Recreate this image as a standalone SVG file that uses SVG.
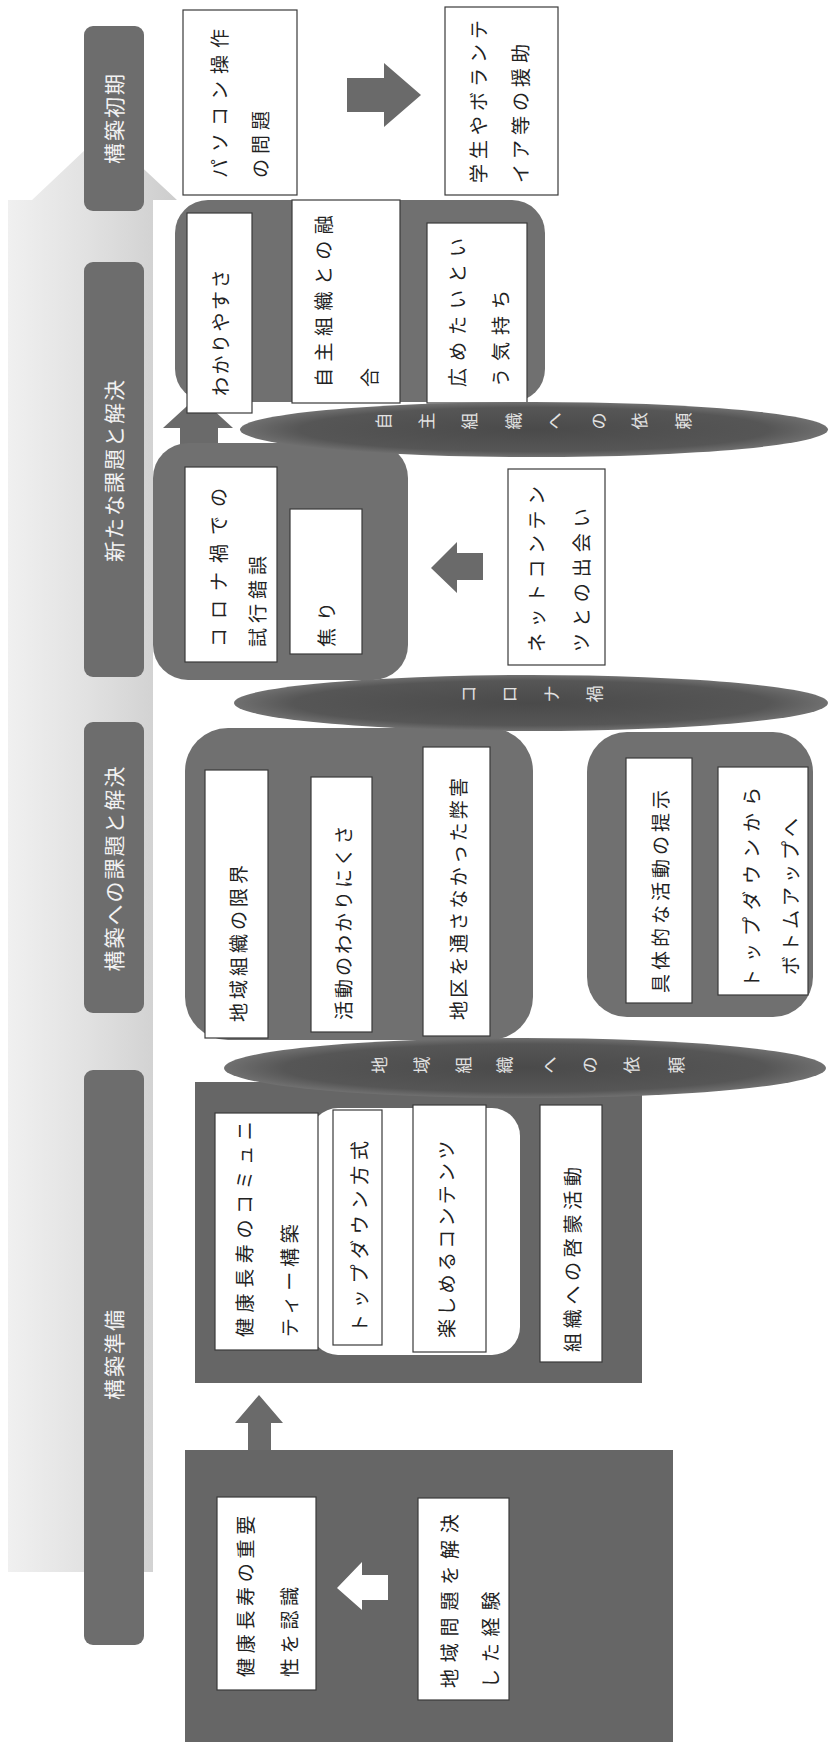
<svg xmlns="http://www.w3.org/2000/svg" width="830" height="1742" viewBox="0 0 830 1742">
<defs>
<linearGradient id="tl" x1="0" y1="0" x2="1" y2="0">
<stop offset="0" stop-color="#f0f0f0"/>
<stop offset="0.45" stop-color="#e2e2e2"/>
<stop offset="1" stop-color="#cdcdcd"/>
</linearGradient>
<radialGradient id="eg" cx="0.5" cy="0.5" r="0.5">
<stop offset="0" stop-color="#4a4a4a"/>
<stop offset="0.8" stop-color="#565656"/>
<stop offset="1" stop-color="#707070"/>
</radialGradient>
<style>
.hdr{fill:#6d6d6d}
.cont{fill:#707070}
.dark{fill:#666666}
.arr{fill:#6a6a6a}
.wb{fill:#ffffff;stroke:#3a3a3a;stroke-width:1.2}
.ell{fill:url(#eg)}
.t{font-family:"Noto Sans CJK JP","Noto Sans CJK SC",sans-serif;font-size:19px;fill:#222222;dominant-baseline:central}
.h{font-family:"Noto Sans CJK JP","Noto Sans CJK SC",sans-serif;font-size:21px;fill:#f2f2f2;dominant-baseline:central;text-anchor:middle;letter-spacing:2px}
.e{font-family:"Noto Sans CJK JP","Noto Sans CJK SC",sans-serif;font-size:17px;fill:#e2e2e2;dominant-baseline:central;text-anchor:middle}
</style>
</defs>
<rect width="830" height="1742" fill="#ffffff"/>

<g id="timeline">
<path d="M8,1572 L8,200 L32,200 L104,132 L177,200 L153,200 L153,1572 Z" fill="url(#tl)"/>
</g>

<g id="headers">
<g id="h-shoki"><rect class="hdr" x="84" y="26" width="60" height="185" rx="9"/><text class="h" x="113" y="118" transform="rotate(-90 113 118)">構築初期</text></g>
<g id="h-arata"><rect class="hdr" x="84" y="262" width="60" height="415" rx="9"/><text class="h" x="113" y="470" transform="rotate(-90 113 470)">新たな課題と解決</text></g>
<g id="h-kadai"><rect class="hdr" x="84" y="722" width="60" height="291" rx="9"/><text class="h" x="113" y="868" transform="rotate(-90 113 868)">構築への課題と解決</text></g>
<g id="h-junbi"><rect class="hdr" x="84" y="1070" width="60" height="575" rx="9"/><text class="h" x="113" y="1354" transform="rotate(-90 113 1354)">構築準備</text></g>
</g>

<g id="connectors">
<path class="arr" d="M347,78 L384,78 L384,63 L421,95 L384,127 L384,112 L347,112 Z"/>
<path class="arr" d="M180,445 L180,428 L163,428 L198,396 L233,428 L218,428 L218,445 Z"/>
<path class="arr" d="M483,553 L457,553 L457,542 L431,568 L457,593 L457,580 L483,580 Z"/>
<path class="arr" d="M248,1452 L248,1423 L235,1423 L259,1395 L283,1423 L271,1423 L271,1452 Z"/>
</g>

<g id="n-pasokon"><rect class="wb" x="183" y="10" width="114" height="185"/>
<text class="t" x="218" y="178" transform="rotate(-90 218 178)" letter-spacing="7">パソコン操作</text>
<text class="t" x="259" y="178" transform="rotate(-90 259 178)" letter-spacing="5">の問題</text></g>

<g id="n-gakusei"><rect class="wb" x="445" y="7" width="113" height="188"/>
<text class="t" x="477" y="183" transform="rotate(-90 477 183)" letter-spacing="5">学生やボランテ</text>
<text class="t" x="519" y="183" transform="rotate(-90 519 183)" letter-spacing="5">イア等の援助</text></g>

<g id="n-jishu">
<rect class="cont" x="175" y="200" width="370" height="202" rx="33"/>
<g id="n-wakari"><rect class="wb" x="187" y="213" width="65" height="200"/>
<text class="t" x="219" y="396" transform="rotate(-90 219 396)" letter-spacing="2.5">わかりやすさ</text></g>
<g id="n-yugo"><rect class="wb" x="292" y="200" width="108" height="203"/>
<text class="t" x="322" y="387" transform="rotate(-90 322 387)" letter-spacing="6.5">自主組織との融</text>
<text class="t" x="368" y="387" transform="rotate(-90 368 387)" letter-spacing="6.5">合</text></g>
<g id="n-hirome"><rect class="wb" x="427" y="223" width="100" height="180"/>
<text class="t" x="456" y="387" transform="rotate(-90 456 387)" letter-spacing="7">広めたいとい</text>
<text class="t" x="499" y="387" transform="rotate(-90 499 387)" letter-spacing="7">う気持ち</text></g>
</g>

<g id="n-corona">
<rect class="cont" x="153" y="443" width="255" height="237" rx="35"/>
<g id="n-shiko"><rect class="wb" x="185" y="467" width="92" height="195"/>
<text class="t" x="217" y="647" transform="rotate(-90 217 647)" letter-spacing="9">コロナ禍での</text>
<text class="t" x="256" y="647" transform="rotate(-90 256 647)" letter-spacing="5">試行錯誤</text></g>
<g id="n-aseri"><rect class="wb" x="290" y="509" width="72" height="145"/>
<text class="t" x="325" y="647" transform="rotate(-90 325 647)" letter-spacing="7">焦り</text></g>
</g>

<g id="n-net"><rect class="wb" x="508" y="469" width="97" height="196"/>
<text class="t" x="535" y="652" transform="rotate(-90 535 652)" letter-spacing="5.5">ネットコンテン</text>
<text class="t" x="580" y="652" transform="rotate(-90 580 652)" letter-spacing="6">ツとの出会い</text></g>

<g id="n-kadai">
<rect class="cont" x="185" y="728" width="348" height="312" rx="43"/>
<g id="n-genkai"><rect class="wb" x="205" y="770" width="63" height="268"/>
<text class="t" x="237" y="1022" transform="rotate(-90 237 1022)" letter-spacing="4">地域組織の限界</text></g>
<g id="n-wakarinikusa"><rect class="wb" x="311" y="777" width="61" height="255"/>
<text class="t" x="342" y="1020" transform="rotate(-90 342 1020)" letter-spacing="3">活動のわかりにくさ</text></g>
<g id="n-heigai"><rect class="wb" x="423" y="747" width="67" height="289"/>
<text class="t" x="457" y="1020" transform="rotate(-90 457 1020)" letter-spacing="3.3">地区を通さなかった弊害</text></g>
</g>

<g id="n-gutai">
<rect class="cont" x="587" y="732" width="226" height="285" rx="40"/>
<g id="n-teiji"><rect class="wb" x="626" y="758" width="66" height="245"/>
<text class="t" x="659" y="993" transform="rotate(-90 659 993)" letter-spacing="4">具体的な活動の提示</text></g>
<g id="n-bottomup"><rect class="wb" x="718" y="767" width="90" height="228"/>
<text class="t" x="750" y="988" transform="rotate(-90 750 988)" letter-spacing="7">トップダウンから</text>
<text class="t" x="789" y="975" transform="rotate(-90 789 975)" letter-spacing="4">ボトムアップへ</text></g>
</g>

<g id="n-junbi">
<rect class="dark" x="195" y="1082" width="447" height="301"/>
<rect x="310" y="1108" width="210" height="247" rx="28" fill="#ffffff"/>
<g id="n-community"><rect class="wb" x="215" y="1113" width="103" height="237"/>
<text class="t" x="243" y="1337" transform="rotate(-90 243 1337)" letter-spacing="5.6">健康長寿のコミュニ</text>
<text class="t" x="288" y="1337" transform="rotate(-90 288 1337)" letter-spacing="4.7">ティー構築</text></g>
<g id="n-topdown"><rect class="wb" x="333" y="1110" width="49" height="235"/>
<text class="t" x="358" y="1333" transform="rotate(-90 358 1333)" letter-spacing="5.7">トップダウン方式</text></g>
<g id="n-tanoshimeru"><rect class="wb" x="413" y="1105" width="73" height="247"/>
<text class="t" x="445" y="1338" transform="rotate(-90 445 1338)" letter-spacing="3.3">楽しめるコンテンツ</text></g>
<g id="n-keimou"><rect class="wb" x="540" y="1105" width="62" height="257"/>
<text class="t" x="571" y="1352" transform="rotate(-90 571 1352)" letter-spacing="4.7">組織への啓蒙活動</text></g>
</g>

<g id="n-start">
<rect class="dark" x="185" y="1450" width="488" height="292"/>
<g id="n-juyou"><rect class="wb" x="217" y="1497" width="99" height="193"/>
<text class="t" x="244" y="1677" transform="rotate(-90 244 1677)" letter-spacing="4.7">健康長寿の重要</text>
<text class="t" x="288" y="1677" transform="rotate(-90 288 1677)" letter-spacing="4.7">性を認識</text></g>
<path d="M388,1575 L362,1575 L362,1562 L337,1588 L362,1610 L362,1600 L388,1600 Z" fill="#ffffff"/>
<g id="n-keiken"><rect class="wb" x="418" y="1498" width="91" height="202"/>
<text class="t" x="448" y="1688" transform="rotate(-90 448 1688)" letter-spacing="6.8">地域問題を解決</text>
<text class="t" x="489" y="1688" transform="rotate(-90 489 1688)" letter-spacing="6.8">した経験</text></g>
</g>

<g id="n-irai-jishu">
<ellipse class="ell" cx="534" cy="429.5" rx="294" ry="27.5"/>
<text class="e" x="382" y="421" transform="rotate(-90 382 421)">自</text>
<text class="e" x="425" y="421" transform="rotate(-90 425 421)">主</text>
<text class="e" x="468" y="421" transform="rotate(-90 468 421)">組</text>
<text class="e" x="512" y="421" transform="rotate(-90 512 421)">織</text>
<text class="e" x="553" y="421" transform="rotate(-90 553 421)">へ</text>
<text class="e" x="597" y="421" transform="rotate(-90 597 421)">の</text>
<text class="e" x="638" y="421" transform="rotate(-90 638 421)">依</text>
<text class="e" x="682" y="421" transform="rotate(-90 682 421)">頼</text>
</g>

<g id="n-coronaka">
<ellipse class="ell" cx="531" cy="703" rx="297" ry="28"/>
<text class="e" x="467" y="694" transform="rotate(-90 467 694)">コ</text>
<text class="e" x="508" y="694" transform="rotate(-90 508 694)">ロ</text>
<text class="e" x="550" y="694" transform="rotate(-90 550 694)">ナ</text>
<text class="e" x="593" y="694" transform="rotate(-90 593 694)">禍</text>
</g>

<g id="n-irai-chiiki">
<ellipse class="ell" cx="525" cy="1068" rx="301" ry="30"/>
<text class="e" x="378" y="1065" transform="rotate(-90 378 1065)">地</text>
<text class="e" x="420" y="1065" transform="rotate(-90 420 1065)">域</text>
<text class="e" x="462" y="1065" transform="rotate(-90 462 1065)">組</text>
<text class="e" x="503" y="1065" transform="rotate(-90 503 1065)">織</text>
<text class="e" x="548" y="1065" transform="rotate(-90 548 1065)">へ</text>
<text class="e" x="588" y="1065" transform="rotate(-90 588 1065)">の</text>
<text class="e" x="630" y="1065" transform="rotate(-90 630 1065)">依</text>
<text class="e" x="675" y="1065" transform="rotate(-90 675 1065)">頼</text>
</g>
</svg>
